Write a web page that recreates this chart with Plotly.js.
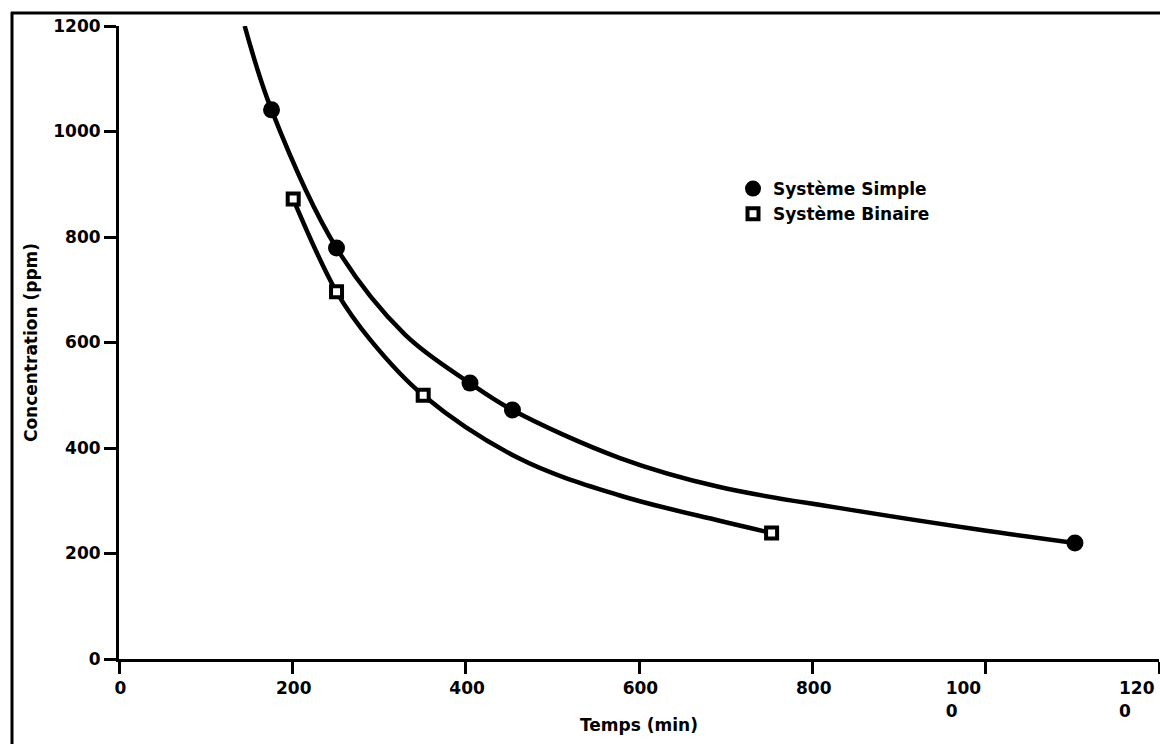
<!DOCTYPE html>
<html>
<head>
<meta charset="utf-8">
<script src="https://cdn.plot.ly/plotly-3.0.1.min.js"></script>
<style>
  html, body { margin: 0; padding: 0; background: #fff; }
  #chart { width: 1160px; height: 744px; }
</style>
</head>
<body>
<div id="chart"></div>
<script>
// Measured points
var simpleX = [176, 251, 405, 454, 1103];
var simpleY = [1041, 779, 523, 472, 220];
var binaryX = [201, 251, 351, 753];
var binaryY = [872, 696, 500, 239];

// Fitted curves
var simpleCurveX = [145, 176, 251, 330, 405, 454, 578, 693, 832, 993, 1103];
var simpleCurveY = [1200, 1041, 779, 615, 523, 472, 381, 326, 286, 245, 220];
var binaryCurveX = [201, 251, 290, 351, 462, 578, 693, 753];
var binaryCurveY = [872, 696, 605, 500, 380, 310, 262, 239];

// Axis ticks (labels are left-aligned blocks, as in the original)
var NB = '\u00a0';
var xTickVals = [0, 200, 400, 600, 800, 1000, 1200];
var xTickText = [NB.repeat(6) + '0', NB.repeat(4) + '200', NB.repeat(4) + '400',
  NB.repeat(4) + '600', NB.repeat(4) + '800', '100<br>0', '120<br>0'];
var yTickVals = [0, 200, 400, 600, 800, 1000, 1200];

var seriesNames = ['Système Simple', 'Système Binaire'];
var xTitle = 'Temps (min)';
var yTitle = 'Concentration (ppm)';

var FONT = 'DejaVu Sans, Liberation Sans, sans-serif';

var traces = [
  { x: simpleCurveX, y: simpleCurveY, mode: 'lines', type: 'scatter',
    line: { color: '#000', width: 4.5, shape: 'spline', smoothing: 1 },
    showlegend: false, hoverinfo: 'skip' },
  { x: binaryCurveX, y: binaryCurveY, mode: 'lines', type: 'scatter',
    line: { color: '#000', width: 4.5, shape: 'spline', smoothing: 1 },
    showlegend: false, hoverinfo: 'skip' },
  { x: simpleX, y: simpleY, mode: 'markers', type: 'scatter', name: seriesNames[0],
    marker: { symbol: 'circle', size: 17, color: '#000', line: { width: 0 } },
    cliponaxis: false },
  { x: binaryX, y: binaryY, mode: 'markers', type: 'scatter', name: seriesNames[1],
    marker: { symbol: 'square', size: 11, color: '#fff', line: { width: 4, color: '#000' } },
    cliponaxis: false }
];

var L = 119, R = 1, T = 26, B = 85;
var W = 1160, H = 744;
var pw = W - L - R, ph = H - T - B;
function px2paperX(px) { return (px - L) / pw; }
function px2paperY(py) { return (H - B - py) / ph; }

var layout = {
  width: W, height: H,
  margin: { l: L, r: R, t: T, b: B, pad: 0 },
  paper_bgcolor: '#fff', plot_bgcolor: '#fff',
  font: { family: FONT, size: 17, color: '#000', weight: 'bold' },
  showlegend: true,
  legend: {
    x: px2paperX(733), y: px2paperY(171), xanchor: 'left', yanchor: 'top',
    bgcolor: 'rgba(0,0,0,0)', borderwidth: 0,
    font: { family: FONT, size: 17, color: '#000', weight: 'bold' },
    tracegroupgap: 0
  },
  xaxis: {
    range: [0, 1200], autorange: false,
    tickmode: 'array', tickvals: xTickVals, ticktext: xTickText,
    ticklabelposition: 'outside right', ticklabelshift: -43, ticklabelstandoff: 12,
    ticks: 'outside', ticklen: 12, tickwidth: 3, tickcolor: '#000',
    showline: true, linewidth: 3, linecolor: '#000', mirror: false,
    showgrid: false, zeroline: false,
    tickfont: { family: FONT, size: 17, color: '#000', weight: 'bold' },
    title: { text: xTitle, font: { family: FONT, size: 17, color: '#000', weight: 'bold' }, standoff: 0 },
    automargin: false
  },
  yaxis: {
    range: [0, 1200], autorange: false,
    tickmode: 'array', tickvals: yTickVals,
    ticks: 'outside', ticklen: 12, tickwidth: 3, tickcolor: '#000',
    showline: true, linewidth: 3, linecolor: '#000', mirror: false,
    showgrid: false, zeroline: false,
    tickfont: { family: FONT, size: 17, color: '#000', weight: 'bold' },
    title: { text: yTitle, font: { family: FONT, size: 17, color: '#000', weight: 'bold' }, standoff: 12 },
    automargin: false
  },
  shapes: [
    { type: 'line', xref: 'paper', yref: 'paper',
      x0: px2paperX(12), x1: px2paperX(12), y0: px2paperY(760), y1: px2paperY(12),
      line: { color: '#000', width: 3 } },
    { type: 'line', xref: 'paper', yref: 'paper',
      x0: px2paperX(11), x1: px2paperX(1170), y0: px2paperY(13), y1: px2paperY(13),
      line: { color: '#000', width: 3 } }
  ]
};

Plotly.newPlot('chart', traces, layout, { staticPlot: true, displayModeBar: false });
</script>
</body>
</html>
